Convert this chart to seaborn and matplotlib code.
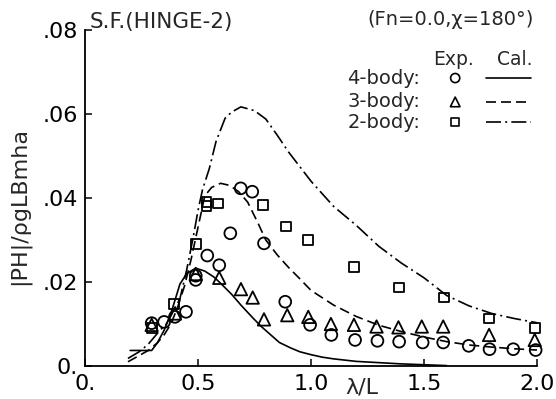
import numpy as np
import pandas as pd
import matplotlib
matplotlib.use("Agg")
import matplotlib.pyplot as plt
import seaborn as sns

# ---------------- data ----------------
# Experimental points
exp4_x = [0.295, 0.35, 0.398, 0.447, 0.49, 0.49, 0.541, 0.594, 0.643, 0.689, 0.74, 0.792,
          0.886, 0.996, 1.09, 1.195, 1.294, 1.39, 1.494, 1.585, 1.698, 1.79, 1.895, 1.994]
exp4_y = [0.0102, 0.0105, 0.0117, 0.0129, 0.0205, 0.0215, 0.0263, 0.0240, 0.0316, 0.0423, 0.0415, 0.0292,
          0.0153, 0.0098, 0.0074, 0.0062, 0.0060, 0.0058, 0.0056, 0.0056, 0.0048, 0.0040, 0.0040, 0.0038]

exp3_x = [0.295, 0.398, 0.49, 0.594, 0.69, 0.742, 0.792, 0.895, 0.988, 1.088, 1.19,
          1.29, 1.387, 1.49, 1.585, 1.788, 1.99]
exp3_y = [0.0098, 0.0125, 0.0219, 0.0210, 0.0183, 0.0163, 0.0111, 0.0121, 0.0117, 0.0100, 0.0098,
          0.0094, 0.0092, 0.0094, 0.0094, 0.0074, 0.0062]

exp2_x = [0.295, 0.395, 0.491, 0.538, 0.538, 0.59, 0.789, 0.889, 0.988, 1.19, 1.39, 1.589, 1.788, 1.99]
exp2_y = [0.0090, 0.0148, 0.0290, 0.0380, 0.0390, 0.0387, 0.0383, 0.0332, 0.0300, 0.0235, 0.0187, 0.0163, 0.0113, 0.0091]

# Calculated curves
cal4_x = [0.20, 0.295, 0.32, 0.35, 0.38, 0.42, 0.45, 0.49, 0.53, 0.57, 0.60, 0.65, 0.69, 0.74,
          0.78, 0.82, 0.86, 0.91, 0.95, 1.0, 1.05, 1.1, 1.2, 1.3, 1.4, 1.5, 1.6]
cal4_y = [0.0037, 0.0037, 0.0055, 0.0085, 0.0125, 0.0195, 0.0220, 0.0233, 0.0226, 0.0212, 0.0197,
          0.0170, 0.0145, 0.0116, 0.0094, 0.0075, 0.0056, 0.0043, 0.0034, 0.0027, 0.0021, 0.0017,
          0.0011, 0.0008, 0.0005, 0.0003, 0.0001]

cal3_x = [0.19, 0.24, 0.28, 0.32, 0.35, 0.38, 0.41, 0.44, 0.47, 0.50, 0.53, 0.56, 0.60, 0.64,
          0.68, 0.72, 0.77, 0.80, 0.85, 0.90, 0.95, 1.0, 1.1, 1.2, 1.3, 1.4, 1.5, 1.6, 1.7,
          1.8, 1.9, 2.0]
cal3_y = [0.0010, 0.0025, 0.0037, 0.0055, 0.0074, 0.0100, 0.0140, 0.0190, 0.0255, 0.0330, 0.0405,
          0.0425, 0.0435, 0.0430, 0.0415, 0.0390, 0.0335, 0.0300, 0.0265, 0.0235, 0.0208, 0.0180,
          0.0145, 0.0118, 0.0097, 0.0082, 0.0069, 0.0058, 0.0050, 0.0045, 0.0041, 0.0038]

cal2_x = [0.19, 0.24, 0.28, 0.33, 0.36, 0.39, 0.42, 0.45, 0.48, 0.50, 0.52, 0.55, 0.58, 0.62,
          0.65, 0.69, 0.75, 0.80, 0.85, 0.90, 0.95, 1.0, 1.1, 1.2, 1.3, 1.4, 1.5, 1.6, 1.7,
          1.8, 1.9, 2.0]
cal2_y = [0.0018, 0.0034, 0.0052, 0.0084, 0.0100, 0.0130, 0.0160, 0.0229, 0.0310, 0.0370, 0.0420,
          0.0470, 0.0535, 0.0590, 0.0605, 0.0617, 0.0608, 0.0588, 0.0550, 0.0510, 0.0475, 0.0440,
          0.0380, 0.0335, 0.0285, 0.0245, 0.0210, 0.0168, 0.0143, 0.0125, 0.0113, 0.0103]

x_ticks = [0.0, 0.5, 1.0, 1.5, 2.0]
x_ticklabels = ["0.", "0.5", "1.0", "1.5", "2.0"]
y_ticks = [0.0, 0.02, 0.04, 0.06, 0.08]
y_ticklabels = ["0.", ".02", ".04", ".06", ".08"]

bodies = ["4-body:", "3-body:", "2-body:"]

# ---------------- styling ----------------
sns.set_style("ticks")
plt.rcParams["font.family"] = ["DejaVu Sans"]

fig = plt.figure(figsize=(5.56, 3.99), dpi=100)
ax = fig.add_axes([85 / 556, 33 / 399, 452 / 556, 336 / 399])

lw = 1.2
styles = {
    "4-body:": dict(ls="-", marker="o", s=72),
    "3-body:": dict(ls=(0, (6, 3)), marker="^", s=80),
    "2-body:": dict(ls=(0, (9, 2.5, 1.2, 2.5)), marker="s", s=50),
}

curves = {"4-body:": (cal4_x, cal4_y), "3-body:": (cal3_x, cal3_y), "2-body:": (cal2_x, cal2_y)}
points = {"4-body:": (exp4_x, exp4_y), "3-body:": (exp3_x, exp3_y), "2-body:": (exp2_x, exp2_y)}

for b in bodies:
    cx, cy = curves[b]
    dfc = pd.DataFrame({"x": cx, "y": cy})
    sns.lineplot(data=dfc, x="x", y="y", ax=ax, color="black", lw=lw,
                 linestyle=styles[b]["ls"], sort=False, estimator=None)
for b in bodies:
    px, py = points[b]
    dfp = pd.DataFrame({"x": px, "y": py})
    sns.scatterplot(data=dfp, x="x", y="y", ax=ax, marker=styles[b]["marker"],
                    s=styles[b]["s"], facecolors="none", edgecolor="black", linewidth=1.3,
                    zorder=3, clip_on=False)

ax.set_xlim(0, 2.0)
ax.set_ylim(0, 0.08)
ax.set_xticks(x_ticks)
ax.set_xticklabels(x_ticklabels)
ax.set_yticks(y_ticks)
ax.set_yticklabels(y_ticklabels)
ax.tick_params(direction="in", length=5, width=1.1, labelsize=16, pad=6, colors="black")
ax.tick_params(axis="y", pad=5)
for sp in ["top", "right"]:
    ax.spines[sp].set_visible(False)
for sp in ["left", "bottom"]:
    ax.spines[sp].set_linewidth(1.3)
    ax.spines[sp].set_color("black")
ax.set_xlabel("")
ax.set_ylabel("")

# axis labels
ax.text(-0.145, 0.476, "|PH|/ρgLBmha", transform=ax.transAxes, rotation=90,
        ha="center", va="center", fontsize=16)
ax.text(1.226, -0.064, "λ/L", transform=ax.get_xaxis_transform(), ha="center",
        va="center", fontsize=16, clip_on=False)

# titles
ax.text(0.011, 1.024, "S.F.(HINGE-2)", transform=ax.transAxes, ha="left", va="center",
        fontsize=15.5)
ax.text(0.993, 1.03, "(Fn=0.0,χ=180°)", transform=ax.transAxes, ha="right", va="center",
        fontsize=14)

# legend table
ax.text(0.770, 0.911, "Exp.", transform=ax.transAxes, ha="left", va="center", fontsize=13.5)
ax.text(0.990, 0.911, "Cal.", transform=ax.transAxes, ha="right", va="center", fontsize=13.5)
leg_y = [0.857, 0.786, 0.726]
for b, yy in zip(bodies, leg_y):
    ax.text(0.580, yy, b, transform=ax.transAxes, ha="left", va="center", fontsize=14)
    st = styles[b]
    ax.scatter([0.819], [yy], transform=ax.transAxes, marker=st["marker"],
               s=st["s"] * 0.6, facecolors="none", edgecolors="black", linewidths=1.2,
               clip_on=False)
    ax.plot([0.888, 0.987], [yy, yy], transform=ax.transAxes, color="black", lw=lw,
            linestyle=st["ls"], clip_on=False)

fig.savefig("out.png", dpi=100)
